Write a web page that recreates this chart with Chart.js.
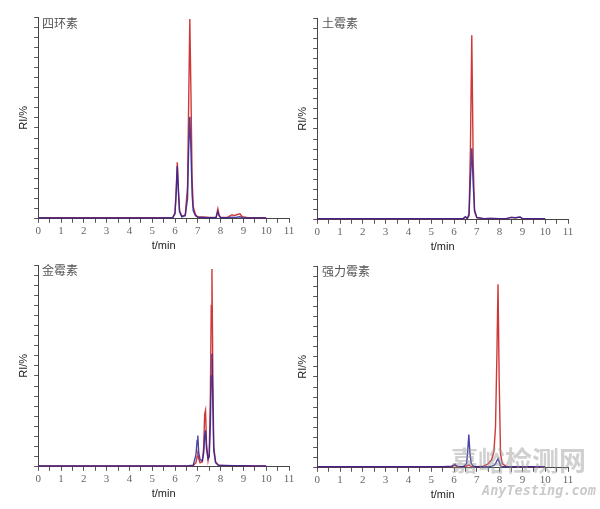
<!DOCTYPE html>
<html>
<head>
<meta charset="utf-8">
<script src="https://cdn.jsdelivr.net/npm/chart.js@4"></script>
<style>
  body { margin: 0; background: #fff; }
  #pagina { position: relative; width: 600px; height: 509px; overflow: hidden; }
  canvas { position: absolute; }
  .nome { position: absolute; font-family: "Noto Sans CJK SC"; font-size: 12px; color: #555; }
  .marca1 { position: absolute; left: 451px; top: 440px; font-family: "Noto Sans CJK SC"; font-weight: bold;
            font-size: 27px; color: rgba(150,150,150,0.45); }
  .marca2 { position: absolute; left: 482px; top: 482px; font-family: "DejaVu Sans Mono"; font-style: italic; font-weight: bold;
            font-size: 13.5px; color: rgba(150,150,150,0.5); }
</style>
</head>
<body>
<div id="pagina">
  <canvas id="g1" width="300" height="256" style="left:0px;top:0px"></canvas>
  <canvas id="g2" width="300" height="256" style="left:279px;top:1px"></canvas>
  <canvas id="g3" width="300" height="256" style="left:0px;top:248px"></canvas>
  <canvas id="g4" width="300" height="256" style="left:279px;top:249px"></canvas>
  <div class="nome" style="left:42px;top:14px">四环素</div>
  <div class="nome" style="left:322px;top:14px">土霉素</div>
  <div class="nome" style="left:42px;top:261px">金霉素</div>
  <div class="nome" style="left:322px;top:262px">强力霉素</div>
  <div class="marca1">嘉峪检测网</div>
  <div class="marca2">AnyTesting.com</div>
</div>
<script>
// 四环素
const t1 = [0, 0.5, 1, 1.5, 2, 2.5, 3, 3.5, 4, 4.5, 5, 5.5, 5.9, 6.0, 6.05, 6.1, 6.15, 6.2, 6.3, 6.45, 6.55, 6.6, 6.65, 6.7, 6.75, 6.8, 6.9, 7.0, 7.5, 7.8, 7.88, 7.93, 8.0, 8.3, 8.5, 8.6, 8.7, 8.85, 8.95, 9.2, 9.6, 10];
const red1 = [0.006, 0.005, 0.006, 0.005, 0.006, 0.005, 0.006, 0.005, 0.006, 0.005, 0.006, 0.005, 0.007, 0.03, 0.14, 0.28, 0.15, 0.04, 0.012, 0.02, 0.16, 0.58, 0.99, 0.62, 0.2, 0.06, 0.02, 0.01, 0.007, 0.007, 0.05, 0.02, 0.007, 0.007, 0.02, 0.016, 0.02, 0.025, 0.01, 0.006, 0.005, 0.005];
const blue1 = [0.004, 0.004, 0.004, 0.004, 0.004, 0.004, 0.004, 0.004, 0.004, 0.004, 0.004, 0.004, 0.005, 0.025, 0.12, 0.26, 0.13, 0.035, 0.01, 0.015, 0.1, 0.35, 0.505, 0.33, 0.12, 0.04, 0.015, 0.008, 0.005, 0.005, 0.035, 0.015, 0.005, 0.005, 0.008, 0.007, 0.008, 0.01, 0.006, 0.004, 0.004, 0.004];

// 土霉素
const t2 = [0, 0.5, 1, 1.5, 2, 2.5, 3, 3.5, 4, 4.5, 5, 5.5, 6, 6.4, 6.5, 6.58, 6.66, 6.72, 6.78, 6.84, 6.9, 7.0, 7.3, 7.6, 8, 8.3, 8.5, 8.7, 8.9, 9.0, 9.5, 10];
const red2 = [0.005, 0.005, 0.006, 0.005, 0.005, 0.006, 0.005, 0.005, 0.006, 0.005, 0.005, 0.006, 0.005, 0.006, 0.014, 0.006, 0.02, 0.35, 0.915, 0.3, 0.04, 0.01, 0.006, 0.007, 0.005, 0.006, 0.012, 0.01, 0.013, 0.006, 0.005, 0.005];
const blue2 = [0.005, 0.005, 0.006, 0.005, 0.005, 0.006, 0.005, 0.005, 0.006, 0.005, 0.005, 0.006, 0.005, 0.005, 0.015, 0.006, 0.03, 0.2, 0.355, 0.18, 0.05, 0.012, 0.006, 0.007, 0.005, 0.006, 0.012, 0.01, 0.014, 0.006, 0.005, 0.005];

// 金霉素
const t3 = [0, 0.5, 1, 1.5, 2, 2.5, 3, 3.5, 4, 4.5, 5, 5.5, 6, 6.5, 6.8, 6.92, 6.97, 7.0, 7.04, 7.1, 7.2, 7.26, 7.3, 7.34, 7.38, 7.45, 7.5, 7.55, 7.59, 7.62, 7.66, 7.7, 7.78, 7.9, 8.2, 8.6, 9, 9.5, 10];
const red3 = [0.004, 0.004, 0.004, 0.004, 0.004, 0.004, 0.004, 0.004, 0.004, 0.004, 0.004, 0.004, 0.004, 0.004, 0.006, 0.02, 0.05, 0.06, 0.04, 0.02, 0.025, 0.1, 0.26, 0.28, 0.12, 0.03, 0.06, 0.35, 0.8, 0.98, 0.45, 0.1, 0.025, 0.008, 0.006, 0.006, 0.005, 0.004, 0.004];
const blue3 = [0.004, 0.004, 0.004, 0.004, 0.004, 0.004, 0.004, 0.004, 0.004, 0.004, 0.004, 0.004, 0.004, 0.004, 0.008, 0.06, 0.13, 0.155, 0.07, 0.035, 0.03, 0.07, 0.15, 0.18, 0.09, 0.04, 0.05, 0.2, 0.45, 0.56, 0.3, 0.08, 0.02, 0.008, 0.007, 0.006, 0.005, 0.004, 0.004];

// 强力霉素
const t4 = [0, 0.5, 1, 1.5, 2, 2.5, 3, 3.5, 4, 4.5, 5, 5.5, 5.9, 6.05, 6.1, 6.2, 6.4, 6.55, 6.6, 6.65, 6.7, 6.76, 6.85, 7.0, 7.3, 7.5, 7.65, 7.75, 7.82, 7.88, 7.93, 7.98, 8.04, 8.12, 8.3, 8.6, 9, 9.5, 10];
const red4 = [0.005, 0.005, 0.005, 0.005, 0.005, 0.005, 0.005, 0.005, 0.005, 0.005, 0.005, 0.005, 0.006, 0.012, 0.008, 0.005, 0.005, 0.008, 0.012, 0.014, 0.01, 0.006, 0.005, 0.005, 0.008, 0.02, 0.04, 0.08, 0.2, 0.55, 0.91, 0.45, 0.07, 0.02, 0.007, 0.006, 0.005, 0.005, 0.005];
const blue4 = [0.005, 0.005, 0.005, 0.005, 0.005, 0.005, 0.005, 0.005, 0.005, 0.005, 0.005, 0.005, 0.008, 0.018, 0.01, 0.005, 0.005, 0.02, 0.08, 0.165, 0.07, 0.02, 0.008, 0.005, 0.005, 0.005, 0.008, 0.012, 0.02, 0.035, 0.045, 0.03, 0.01, 0.006, 0.005, 0.005, 0.005, 0.005, 0.005];

const corVermelha = "rgba(205,45,45,0.95)";
const corAzul = "rgba(40,35,150,0.85)";

// Junta tempos e valores em pontos
function pontos(tempos, valores) {
  return tempos.map((t, i) => ({x: t, y: valores[i]}));
}

// Cria um cromatograma
function desenharPainel(id, tempos, vermelho, azul) {
  const ctx = document.getElementById(id).getContext('2d');
  return new Chart(ctx, {
    type: 'line',
    data: {
      datasets: [
        { data: pontos(tempos, azul), borderColor: corAzul, borderWidth: 1.4, pointRadius: 0, tension: 0 },
        { data: pontos(tempos, vermelho), borderColor: corVermelha, borderWidth: 1.4, pointRadius: 0, tension: 0 }
      ]
    },
    options: {
      responsive: false,
      animation: false,
      devicePixelRatio: 1,
      layout: { padding: { left: 13, right: 11, top: 17, bottom: 3 } },
      plugins: { legend: { display: false }, tooltip: { enabled: false } },
      scales: {
        x: {
          type: 'linear', min: 0, max: 11,
          border: { display: true, color: '#444', width: 1 },
          grid: { display: true, drawOnChartArea: false, drawTicks: true, tickLength: 4, color: '#555' },
          ticks: {
            stepSize: 0.5, autoSkip: false, maxRotation: 0, padding: 3, color: '#666',
            font: { family: 'Liberation Serif', size: 11, lineHeight: 1 },
            callback: v => Number.isInteger(v) ? v : ''
          },
          title: { display: true, text: 't/min', color: '#222', padding: { top: 0, bottom: 0 },
                   font: { family: 'Liberation Sans', size: 11 } }
        },
        y: {
          min: 0, max: 1,
          border: { display: true, color: '#444', width: 1 },
          grid: { display: true, drawOnChartArea: false, drawTicks: true, tickLength: 4, color: '#555' },
          ticks: { display: false, stepSize: 0.05 },
          title: { display: true, text: 'RI/%', color: '#222', padding: { top: 4, bottom: 4 },
                   font: { family: 'Liberation Sans', size: 11 } }
        }
      }
    }
  });
}

desenharPainel('g1', t1, red1, blue1);
desenharPainel('g2', t2, red2, blue2);
desenharPainel('g3', t3, red3, blue3);
desenharPainel('g4', t4, red4, blue4);
</script>
</body>
</html>
